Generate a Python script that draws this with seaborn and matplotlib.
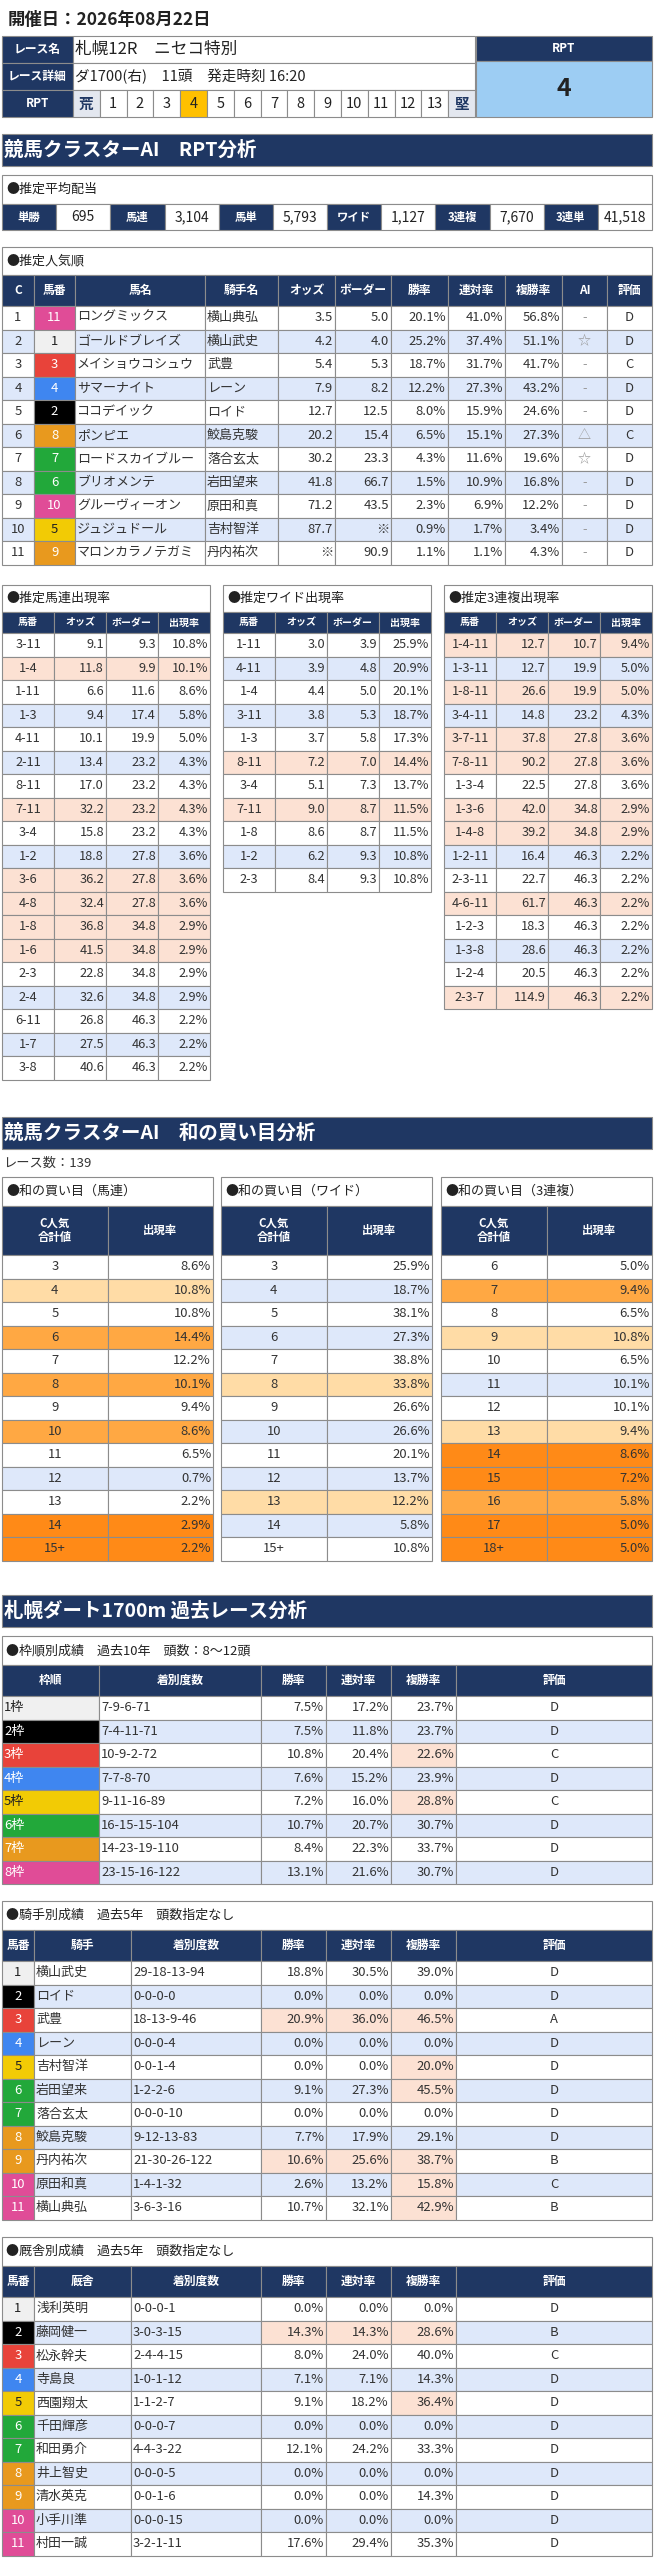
import matplotlib
matplotlib.use("Agg")
import matplotlib.pyplot as plt
from matplotlib.patches import Rectangle
import seaborn as sns

sns.set_theme(style="white")
plt.rcParams['font.family'] = ['Noto Sans CJK JP', 'DejaVu Sans']

NAVY = '#1F3763'
BLUE = '#DEE8FA'
PINK = '#FCE1D3'
LOR = '#FFDCA6'
MOR = '#FFA843'
DOR = '#FF8A17'
EDGE = '#8C8C8C'
FRAME = {1: '#F0F0F0', 2: '#000000', 3: '#E8433A', 4: '#3F86F0', 5: '#F2CB05',
         6: '#22A83A', 7: '#E8991E', 8: '#E04C97'}
FTXT = {1: '#222222', 5: '#222222'}
BODY = 9.4

# ---- data ----
race_name = '札幌12R　ニセコ特別'
race_detail = 'ダ1700(右)　11頭　発走時刻 16:20'
rpt_value = 4
payout_labels = ['単勝', '馬連', '馬単', 'ワイド', '3連複', '3連単']
payout_values = ['695', '3,104', '5,793', '1,127', '7,670', '41,518']

pop_rank = list(range(1, 12))
pop_num = [11, 1, 3, 4, 2, 8, 7, 6, 10, 5, 9]
pop_frame = [8, 1, 3, 4, 2, 7, 6, 6, 8, 5, 7]
pop_name = ['ロングミックス', 'ゴールドブレイズ', 'メイショウコシュウ', 'サマーナイト', 'ココデイック',
            'ポンピエ', 'ロードスカイブルー', 'ブリオメンテ', 'グルーヴィーオン', 'ジュジュドール', 'マロンカラノテガミ']
pop_jockey = ['横山典弘', '横山武史', '武豊', 'レーン', 'ロイド', '鮫島克駿', '落合玄太', '岩田望来',
              '原田和真', '吉村智洋', '丹内祐次']
pop_odds = ['3.5', '4.2', '5.4', '7.9', '12.7', '20.2', '30.2', '41.8', '71.2', '87.7', '※']
pop_border = ['5.0', '4.0', '5.3', '8.2', '12.5', '15.4', '23.3', '66.7', '43.5', '※', '90.9']
pop_win = ['20.1%', '25.2%', '18.7%', '12.2%', '8.0%', '6.5%', '4.3%', '1.5%', '2.3%', '0.9%', '1.1%']
pop_ren = ['41.0%', '37.4%', '31.7%', '27.3%', '15.9%', '15.1%', '11.6%', '10.9%', '6.9%', '1.7%', '1.1%']
pop_fuku = ['56.8%', '51.1%', '41.7%', '43.2%', '24.6%', '27.3%', '19.6%', '16.8%', '12.2%', '3.4%', '4.3%']
pop_ai = ['-', '☆', '-', '-', '-', '△', '☆', '-', '-', '-', '-']
pop_eval = ['D', 'D', 'C', 'D', 'D', 'C', 'D', 'D', 'D', 'D', 'D']

umaren_combo = ['3-11', '1-4', '1-11', '1-3', '4-11', '2-11', '8-11', '7-11', '3-4', '1-2', '3-6', '4-8',
                '1-8', '1-6', '2-3', '2-4', '6-11', '1-7', '3-8']
umaren_odds = ['9.1', '11.8', '6.6', '9.4', '10.1', '13.4', '17.0', '32.2', '15.8', '18.8', '36.2', '32.4',
               '36.8', '41.5', '22.8', '32.6', '26.8', '27.5', '40.6']
umaren_border = ['9.3', '9.9', '11.6', '17.4', '19.9', '23.2', '23.2', '23.2', '23.2', '27.8', '27.8', '27.8',
                 '34.8', '34.8', '34.8', '34.8', '46.3', '46.3', '46.3']
umaren_rate = ['10.8%', '10.1%', '8.6%', '5.8%', '5.0%', '4.3%', '4.3%', '4.3%', '4.3%', '3.6%', '3.6%', '3.6%',
               '2.9%', '2.9%', '2.9%', '2.9%', '2.2%', '2.2%', '2.2%']
umaren_tag = 'wpwbwbwpwbppppwbwbw'

wide_combo = ['1-11', '4-11', '1-4', '3-11', '1-3', '8-11', '3-4', '7-11', '1-8', '1-2', '2-3']
wide_odds = ['3.0', '3.9', '4.4', '3.8', '3.7', '7.2', '5.1', '9.0', '8.6', '6.2', '8.4']
wide_border = ['3.9', '4.8', '5.0', '5.3', '5.8', '7.0', '7.3', '8.7', '8.7', '9.3', '9.3']
wide_rate = ['25.9%', '20.9%', '20.1%', '18.7%', '17.3%', '14.4%', '13.7%', '11.5%', '11.5%', '10.8%', '10.8%']
wide_tag = 'wbwbwpwpwbw'

trio_combo = ['1-4-11', '1-3-11', '1-8-11', '3-4-11', '3-7-11', '7-8-11', '1-3-4', '1-3-6', '1-4-8',
              '1-2-11', '2-3-11', '4-6-11', '1-2-3', '1-3-8', '1-2-4', '2-3-7']
trio_odds = ['12.7', '12.7', '26.6', '14.8', '37.8', '90.2', '22.5', '42.0', '39.2', '16.4', '22.7', '61.7',
             '18.3', '28.6', '20.5', '114.9']
trio_border = ['10.7', '19.9', '19.9', '23.2', '27.8', '27.8', '27.8', '34.8', '34.8', '46.3', '46.3', '46.3',
               '46.3', '46.3', '46.3', '46.3']
trio_rate = ['9.4%', '5.0%', '5.0%', '4.3%', '3.6%', '3.6%', '3.6%', '2.9%', '2.9%', '2.2%', '2.2%', '2.2%',
             '2.2%', '2.2%', '2.2%', '2.2%']
trio_tag = 'pbpbppwppbwpwbwp'

sum_umaren_key = ['3', '4', '5', '6', '7', '8', '9', '10', '11', '12', '13', '14', '15+']
sum_umaren_rate = ['8.6%', '10.8%', '10.8%', '14.4%', '12.2%', '10.1%', '9.4%', '8.6%', '6.5%', '0.7%', '2.2%',
                   '2.9%', '2.2%']
sum_umaren_tag = 'wlwmwmwmwbwdd'
sum_wide_key = ['3', '4', '5', '6', '7', '8', '9', '10', '11', '12', '13', '14', '15+']
sum_wide_rate = ['25.9%', '18.7%', '38.1%', '27.3%', '38.8%', '33.8%', '26.6%', '26.6%', '20.1%', '13.7%',
                 '12.2%', '5.8%', '10.8%']
sum_wide_tag = 'wbwbwlwbwblbw'
sum_trio_key = ['6', '7', '8', '9', '10', '11', '12', '13', '14', '15', '16', '17', '18+']
sum_trio_rate = ['5.0%', '9.4%', '6.5%', '10.8%', '6.5%', '10.1%', '10.1%', '9.4%', '8.6%', '7.2%', '5.8%',
                 '5.0%', '5.0%']
sum_trio_tag = 'wmwlwbwlddmdd'

frame_label = ['1枠', '2枠', '3枠', '4枠', '5枠', '6枠', '7枠', '8枠']
frame_record = ['7-9-6-71', '7-4-11-71', '10-9-2-72', '7-7-8-70', '9-11-16-89', '16-15-15-104',
                '14-23-19-110', '23-15-16-122']
frame_win = ['7.5%', '7.5%', '10.8%', '7.6%', '7.2%', '10.7%', '8.4%', '13.1%']
frame_ren = ['17.2%', '11.8%', '20.4%', '15.2%', '16.0%', '20.7%', '22.3%', '21.6%']
frame_fuku = ['23.7%', '23.7%', '22.6%', '23.9%', '28.8%', '30.7%', '33.7%', '30.7%']
frame_eval = ['D', 'D', 'C', 'D', 'C', 'D', 'D', 'D']
frame_hl = ['000', '000', '001', '000', '001', '000', '000', '000']

horse_frame = [1, 2, 3, 4, 5, 6, 6, 7, 7, 8, 8]
jockey_name = ['横山武史', 'ロイド', '武豊', 'レーン', '吉村智洋', '岩田望来', '落合玄太', '鮫島克駿',
               '丹内祐次', '原田和真', '横山典弘']
jockey_record = ['29-18-13-94', '0-0-0-0', '18-13-9-46', '0-0-0-4', '0-0-1-4', '1-2-2-6', '0-0-0-10',
                 '9-12-13-83', '21-30-26-122', '1-4-1-32', '3-6-3-16']
jockey_win = ['18.8%', '0.0%', '20.9%', '0.0%', '0.0%', '9.1%', '0.0%', '7.7%', '10.6%', '2.6%', '10.7%']
jockey_ren = ['30.5%', '0.0%', '36.0%', '0.0%', '0.0%', '27.3%', '0.0%', '17.9%', '25.6%', '13.2%', '32.1%']
jockey_fuku = ['39.0%', '0.0%', '46.5%', '0.0%', '20.0%', '45.5%', '0.0%', '29.1%', '38.7%', '15.8%', '42.9%']
jockey_eval = ['D', 'D', 'A', 'D', 'D', 'D', 'D', 'D', 'B', 'C', 'B']
jockey_hl = ['000', '000', '111', '000', '001', '001', '000', '000', '111', '001', '001']

stable_name = ['浅利英明', '藤岡健一', '松永幹夫', '寺島良', '西園翔太', '千田輝彦', '和田勇介', '井上智史',
               '清水英克', '小手川準', '村田一誠']
stable_record = ['0-0-0-1', '3-0-3-15', '2-4-4-15', '1-0-1-12', '1-1-2-7', '0-0-0-7', '4-4-3-22', '0-0-0-5',
                 '0-0-1-6', '0-0-0-15', '3-2-1-11']
stable_win = ['0.0%', '14.3%', '8.0%', '7.1%', '9.1%', '0.0%', '12.1%', '0.0%', '0.0%', '0.0%', '17.6%']
stable_ren = ['0.0%', '14.3%', '24.0%', '7.1%', '18.2%', '0.0%', '24.2%', '0.0%', '0.0%', '0.0%', '29.4%']
stable_fuku = ['0.0%', '28.6%', '40.0%', '14.3%', '36.4%', '0.0%', '33.3%', '0.0%', '14.3%', '0.0%', '35.3%']
stable_eval = ['D', 'B', 'C', 'D', 'D', 'D', 'D', 'D', 'D', 'D', 'D']
stable_hl = ['000', '111', '000', '000', '001', '000', '000', '000', '000', '000', '000']

TAGC = {'w': 'white', 'b': BLUE, 'p': PINK, 'l': LOR, 'm': MOR, 'd': DOR}

fig = plt.figure(figsize=(6.54, 25.6), dpi=100)
ax = fig.add_axes([0, 0, 1, 1])
ax.set_xlim(0, 654)
ax.set_ylim(2560, 0)
ax.axis('off')


def cell(x0, y0, x1, y1, text='', fc='white', color='#222222', ha='center', bold=False, size=BODY, ec=EDGE):
    ax.add_patch(Rectangle((x0, y0), x1 - x0, y1 - y0, facecolor=fc, edgecolor=ec, lw=0.8))
    if text != '':
        tx = {'center': (x0 + x1) / 2, 'left': x0 + 2, 'right': x1 - 2}[ha]
        ax.text(tx, (y0 + y1) / 2, text, ha=ha, va='center', color=color, fontsize=size,
                fontweight='bold' if bold else 'normal')


def hcell(x0, y0, x1, y1, text, size=8):
    cell(x0, y0, x1, y1, text, fc=NAVY, color='white', bold=True, size=size)


def banner(y0, y1, text):
    ax.add_patch(Rectangle((2, y0), 650, y1 - y0, facecolor=NAVY, edgecolor=EDGE, lw=0.8))
    ax.text(4, (y0 + y1) / 2, text, ha='left', va='center', color='white', fontsize=14, fontweight='bold')


def box_title(x0, x1, y0, y1, text):
    cell(x0, y0, x1, y1)
    ax.text(x0 + 4, (y0 + y1) / 2, '●' + text, ha='left', va='center', color='#222222', fontsize=9.4)


# ---- header ----
ax.text(8, 20, '開催日：2026年08月22日', ha='left', va='center', fontsize=12.5, fontweight='bold', color='#222222')
hcell(2, 36, 73, 63, 'レース名', 8.5)
hcell(2, 63, 73, 90, 'レース詳細', 8.5)
hcell(2, 90, 73, 117, 'RPT', 8.5)
cell(73, 36, 475, 63, race_name, ha='left', size=12)
cell(73, 63, 475, 90, race_detail, ha='left', size=10.5)
scale = ['荒'] + [str(i) for i in range(1, 14)] + ['堅']
w = (475 - 73) / 15
for i, s in enumerate(scale):
    fc = '#E3E7EF' if s in ('荒', '堅') else ('#FFC000' if s == str(rpt_value) else 'white')
    col = NAVY if s in ('荒', '堅') else '#222222'
    cell(73 + i * w, 90, 73 + (i + 1) * w, 117, s, fc=fc, color=col, size=10.5, bold=s in ('荒', '堅'))
hcell(476, 36, 652, 61, 'RPT', 8.5)
cell(476, 61, 652, 117, str(rpt_value), fc='#9DCDF3', size=18, bold=True)

# ---- RPT analysis ----
banner(134, 166, '競馬クラスターAI　RPT分析')
box_title(2, 652, 175, 204, '推定平均配当')
pw = 650 / 12
for i, (lb, v) in enumerate(zip(payout_labels, payout_values)):
    x = 2 + 2 * i * pw
    hcell(x, 204, x + pw, 230, lb, 8.2)
    cell(x + pw, 204, x + 2 * pw, 230, v, size=10)

box_title(2, 652, 247, 275, '推定人気順')
pcols = [2, 34, 75, 205, 278, 335, 391, 448, 505, 562, 607, 652]
pheads = ['C', '馬番', '馬名', '騎手名', 'オッズ', 'ボーダー', '勝率', '連対率', '複勝率', 'AI', '評価']
for i, h in enumerate(pheads):
    hcell(pcols[i], 275, pcols[i + 1], 306, h, 8.5)
rh = 23.5
for r in range(len(pop_rank)):
    y0 = 306 + r * rh
    bg = BLUE if r % 2 else 'white'
    vals = [str(pop_rank[r]), str(pop_num[r]), pop_name[r], pop_jockey[r], pop_odds[r], pop_border[r],
            pop_win[r], pop_ren[r], pop_fuku[r], pop_ai[r], pop_eval[r]]
    aligns = ['center', 'center', 'left', 'left', 'right', 'right', 'right', 'right', 'right', 'center', 'center']
    for c, v in enumerate(vals):
        fc, col = bg, '#333333'
        if c == 1:
            fc = FRAME[pop_frame[r]]
            col = FTXT.get(pop_frame[r], 'white')
        if c == 9:
            col = '#999999'
        cell(pcols[c], y0, pcols[c + 1], y0 + rh, v, fc=fc, color=col, ha=aligns[c])


def small_table(x0, title, combos, odds, border, rates, tags):
    box_title(x0, x0 + 208, 585, 612, title)
    cw = 52
    for i, h in enumerate(['馬番', 'オッズ', 'ボーダー', '出現率']):
        hcell(x0 + i * cw, 612, x0 + (i + 1) * cw, 633, h, 7.2)
    for r in range(len(combos)):
        y0 = 633 + r * rh
        fc = TAGC[tags[r]]
        for i, (v, a) in enumerate(zip([combos[r], odds[r], border[r], rates[r]],
                                       ['center', 'right', 'right', 'right'])):
            cell(x0 + i * cw, y0, x0 + (i + 1) * cw, y0 + rh, v, fc=fc, ha=a, size=9.2, color='#333333')


small_table(2, '推定馬連出現率', umaren_combo, umaren_odds, umaren_border, umaren_rate, umaren_tag)
small_table(223, '推定ワイド出現率', wide_combo, wide_odds, wide_border, wide_rate, wide_tag)
small_table(444, '推定3連複出現率', trio_combo, trio_odds, trio_border, trio_rate, trio_tag)

# ---- sum analysis ----
banner(1117, 1149, '競馬クラスターAI　和の買い目分析')
ax.text(3, 1163, 'レース数：139', ha='left', va='center', fontsize=9.5, color='#333333')


def sum_table(x0, title, keys, rates, tags):
    box_title(x0, x0 + 211, 1177, 1206, title)
    hw = 105.5
    hcell(x0, 1206, x0 + hw, 1255, 'C人気\n合計値', 8.2)
    hcell(x0 + hw, 1206, x0 + 2 * hw, 1255, '出現率', 8.2)
    for r in range(len(keys)):
        y0 = 1255 + r * rh
        fc = TAGC[tags[r]]
        cell(x0, y0, x0 + hw, y0 + rh, keys[r], fc=fc, color='#333333')
        cell(x0 + hw, y0, x0 + 2 * hw, y0 + rh, rates[r], fc=fc, ha='right', color='#333333')


sum_table(2, '和の買い目（馬連）', sum_umaren_key, sum_umaren_rate, sum_umaren_tag)
sum_table(221, '和の買い目（ワイド）', sum_wide_key, sum_wide_rate, sum_wide_tag)
sum_table(441, '和の買い目（3連複）', sum_trio_key, sum_trio_rate, sum_trio_tag)

# ---- past race analysis ----
banner(1595, 1627, '札幌ダート1700m 過去レース分析')

box_title(2, 652, 1636, 1665, '枠順別成績　過去10年　頭数：8～12頭')
fcols = [2, 99, 261, 326, 391, 456, 652]
for i, h in enumerate(['枠順', '着別度数', '勝率', '連対率', '複勝率', '評価']):
    hcell(fcols[i], 1665, fcols[i + 1], 1696, h, 8.5)
for r in range(len(frame_label)):
    y0 = 1696 + r * rh
    bg = BLUE if r % 2 else 'white'
    cell(fcols[0], y0, fcols[1], y0 + rh, frame_label[r], fc=FRAME[r + 1],
         color=FTXT.get(r + 1, 'white'), ha='left')
    cell(fcols[1], y0, fcols[2], y0 + rh, frame_record[r], fc=bg, ha='left', color='#333333')
    for c, v in enumerate([frame_win[r], frame_ren[r], frame_fuku[r]]):
        fc = PINK if frame_hl[r][c] == '1' else bg
        cell(fcols[2 + c], y0, fcols[3 + c], y0 + rh, v, fc=fc, ha='right', color='#333333')
    cell(fcols[5], y0, fcols[6], y0 + rh, frame_eval[r], fc=bg, color='#333333')


def person_table(ytop, title, head2, names, records, wins, rens, fukus, evals, hls):
    box_title(2, 652, ytop, ytop + 29, title)
    cols = [2, 34, 131, 261, 326, 391, 456, 652]
    hy = ytop + 29
    for i, h in enumerate(['馬番', head2, '着別度数', '勝率', '連対率', '複勝率', '評価']):
        hcell(cols[i], hy, cols[i + 1], hy + 31, h, 8.5)
    y = hy + 31
    for r in range(len(names)):
        y0 = y + r * rh
        bg = BLUE if r % 2 else 'white'
        fr = horse_frame[r]
        cell(cols[0], y0, cols[1], y0 + rh, str(r + 1), fc=FRAME[fr], color=FTXT.get(fr, 'white'))
        cell(cols[1], y0, cols[2], y0 + rh, names[r], fc=bg, ha='left', color='#333333')
        cell(cols[2], y0, cols[3], y0 + rh, records[r], fc=bg, ha='left', color='#333333')
        for c, v in enumerate([wins[r], rens[r], fukus[r]]):
            fc = PINK if hls[r][c] == '1' else bg
            cell(cols[3 + c], y0, cols[4 + c], y0 + rh, v, fc=fc, ha='right', color='#333333')
        cell(cols[6], y0, cols[7], y0 + rh, evals[r], fc=bg, color='#333333')


person_table(1901, '騎手別成績　過去5年　頭数指定なし', '騎手', jockey_name, jockey_record,
             jockey_win, jockey_ren, jockey_fuku, jockey_eval, jockey_hl)
person_table(2237, '厩舎別成績　過去5年　頭数指定なし', '厩舎', stable_name, stable_record,
             stable_win, stable_ren, stable_fuku, stable_eval, stable_hl)

fig.savefig('out.png', dpi=100, facecolor='white')
